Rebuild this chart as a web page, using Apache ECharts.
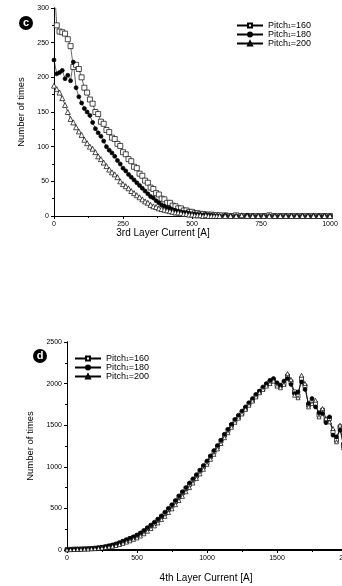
<!DOCTYPE html>
<html>
<head>
<meta charset="utf-8">
<script src="https://cdn.jsdelivr.net/npm/echarts@6/dist/echarts.min.js"></script>
<style>
  html, body { margin: 0; padding: 0; background: #fff; }
  #chart { width: 342px; height: 586px; }
</style>
</head>
<body>
<div id="chart"></div>
<script>
/* ===== 3rd layer (c) ===== */
const cur3 = [0, 10, 20, 30, 40, 50, 60, 70, 80, 90, 100, 110, 120, 130, 140, 150, 160, 170, 180, 190,
    200, 210, 220, 230, 240, 250, 260, 270, 280, 290, 300, 310, 320, 330, 340, 350, 360, 370, 380, 390,
    400, 410, 420, 430, 440, 450, 460, 470, 480, 490, 500, 510, 520, 530, 540, 550, 560, 570, 580, 590,
    600, 620, 640, 660, 680, 700, 720, 740, 760, 780, 800, 820, 840, 860, 880, 900, 920, 940, 960, 980, 1000];
const p160_3 = [340, 275, 266, 265, 263, 255, 245, 215, 218, 212, 200, 185, 178, 168, 162, 150, 147, 136, 133, 124,
    121, 113, 111, 104, 101, 92, 89, 82, 79, 71, 69, 61, 58, 51, 48, 41, 39, 33, 31, 25,
    24, 19, 19, 15, 14, 11, 11, 8, 8, 6, 6, 4, 4, 3, 3, 2, 2, 2, 1, 1,
    1, 1, 0, 1, 0, 0, 0, 0, 0, 1, 0, 0, 0, 0, 0, 0, 0, 0, 0, 0, 0];
const p180_3 = [225, 205, 207, 210, 198, 203, 195, 222, 185, 172, 163, 155, 150, 145, 135, 126, 120, 115, 108, 100,
    95, 91, 86, 80, 75, 69, 65, 60, 56, 52, 48, 44, 40, 36, 32, 28, 26, 22, 19, 16,
    14, 12, 11, 9, 8, 7, 6, 5, 5, 4, 3, 3, 2, 2, 1, 2, 1, 1, 0, 0,
    0, 1, 0, 0, 0, 1, 0, 0, 0, 0, 0, 0, 0, 0, 0, 0, 0, 0, 0, 0, 0];
const p200_3 = [188, 183, 178, 170, 160, 150, 140, 135, 128, 122, 117, 110, 105, 100, 97, 92, 86, 82, 77, 72,
    67, 63, 60, 56, 50, 46, 43, 40, 36, 33, 30, 27, 24, 21, 19, 16, 14, 13, 11, 10,
    9, 8, 7, 6, 5, 5, 4, 3, 3, 2, 2, 1, 1, 1, 0, 1, 0, 0, 0, 0,
    0, 0, 0, 0, 1, 0, 0, 0, 0, 0, 0, 0, 0, 0, 0, 0, 0, 0, 0, 0, 0];

/* ===== 4th layer (d) ===== */
const cur4 = [0, 25, 50, 75, 100, 125, 150, 175, 200, 225, 250, 275, 300, 325, 350, 375, 400, 425, 450, 475,
    500, 525, 550, 575, 600, 625, 650, 675, 700, 725, 750, 775, 800, 825, 850, 875, 900, 925, 950, 975,
    1000, 1025, 1050, 1075, 1100, 1125, 1150, 1175, 1200, 1225, 1250, 1275, 1300, 1325, 1350, 1375, 1400, 1425, 1450, 1475,
    1500, 1525, 1550, 1575, 1600, 1625, 1650, 1675, 1700, 1725, 1750, 1775, 1800, 1825, 1850, 1875, 1900, 1925, 1950, 1975, 2000];
const p160_4 = [5, 8, 10, 10, 12, 14, 15, 18, 20, 25, 30, 38, 45, 55, 68, 82, 100, 118, 135, 150,
    170, 195, 225, 260, 290, 320, 360, 400, 440, 490, 530, 580, 640, 690, 740, 790, 840, 890, 950, 1000,
    1050, 1120, 1180, 1240, 1310, 1380, 1440, 1500, 1560, 1600, 1650, 1700, 1760, 1800, 1860, 1900, 1940, 1990, 2020, 2040,
    1990, 1970, 2000, 2090, 2020, 1900, 1850, 2060, 1970, 1740, 1780, 1760, 1620, 1680, 1560, 1580, 1420, 1320, 1480, 1250, 1150];
const p180_4 = [3, 6, 9, 11, 11, 13, 16, 17, 22, 27, 33, 40, 50, 60, 72, 88, 105, 122, 140, 158,
    180, 205, 235, 268, 300, 335, 372, 410, 455, 500, 545, 595, 650, 700, 750, 805, 855, 905, 960, 1015,
    1070, 1130, 1195, 1255, 1320, 1390, 1450, 1510, 1570, 1620, 1670, 1720, 1770, 1820, 1870, 1910, 1960, 2000, 2040, 2060,
    2010, 1980, 2030, 2060, 1990, 1880, 1900, 2020, 1930, 1760, 1820, 1720, 1650, 1640, 1530, 1600, 1380, 1360, 1440, 1280, 1200];
const p200_4 = [2, 4, 6, 8, 9, 10, 12, 14, 16, 20, 24, 30, 36, 44, 54, 66, 80, 95, 110, 128,
    145, 168, 195, 225, 258, 290, 325, 365, 405, 450, 495, 545, 595, 645, 700, 750, 805, 860, 915, 970,
    1030, 1090, 1150, 1215, 1280, 1350, 1410, 1475, 1535, 1585, 1635, 1690, 1740, 1790, 1840, 1890, 1930, 1970, 2000, 2030,
    1970, 1950, 1990, 2120, 2050, 1860, 1830, 2100, 2000, 1720, 1760, 1800, 1600, 1700, 1580, 1540, 1460, 1300, 1500, 1230, 1120];

const NAMES = ["Pitch1=160", "Pitch1=180", "Pitch1=200"];
const SYMBOLS = ["rect", "circle", "triangle"];
const FILLS = ["#fff", "#000", "#fff"];
const FONT = "Liberation Sans, Arial, sans-serif";

const chart = echarts.init(document.getElementById("chart"));

function xAx(grid, max, interval, top) {
    return {
        type: "value", gridIndex: grid, min: 0, max: max, interval: interval,
        position: top ? "top" : "bottom",
        axisLine: { show: true, lineStyle: { color: "#000", width: top && grid === 1 ? 2 : 1 } },
        axisTick: { show: true, inside: top, length: 3, lineStyle: { color: "#000" } },
        minorTick: { show: true, splitNumber: 2, length: 2, lineStyle: { color: "#000" } },
        axisLabel: { show: !top, fontSize: 7, color: "#000", margin: 5, fontFamily: FONT, formatter: v => String(v) },
        splitLine: { show: false },
    };
}

function yAx(grid, max, interval, right, gap) {
    return {
        type: "value", gridIndex: grid, min: 0, max: max, interval: interval,
        position: right ? "right" : "left",
        name: right ? "" : "Number of times",
        nameLocation: "middle", nameGap: gap,
        nameTextStyle: { fontSize: 9.5, color: "#000", fontFamily: FONT },
        axisLine: { show: true, lineStyle: { color: "#000" } },
        axisTick: { show: true, inside: right, length: 3, lineStyle: { color: "#000" } },
        minorTick: { show: true, splitNumber: 2, length: 2, lineStyle: { color: "#000" } },
        axisLabel: { show: !right, fontSize: 7, color: "#000", margin: 5, fontFamily: FONT, formatter: v => String(v) },
        splitLine: { show: false },
    };
}

function mkSeries(xs, ys, i, gi, size) {
    return {
        type: "line", name: NAMES[i],
        xAxisIndex: gi * 2, yAxisIndex: gi * 2,
        data: xs.map((x, k) => [x, ys[k]]),
        symbol: SYMBOLS[i], symbolSize: size, showSymbol: true,
        lineStyle: { color: "#000", width: 0.6 },
        itemStyle: { color: FILLS[i], borderColor: "#000", borderWidth: 0.7 },
        animation: false,
    };
}

function mkLegend(left, top) {
    return {
        left: left, top: top, orient: "vertical", padding: 0,
        itemWidth: 26, itemHeight: 5, itemGap: 0,
        data: NAMES,
        textStyle: {
            fontSize: 9, color: "#000", fontFamily: FONT, lineHeight: 8,
            rich: { s: { fontSize: 5, lineHeight: 8, verticalAlign: "bottom", fontFamily: FONT } },
        },
        formatter: n => n.replace("Pitch1", "Pitch{s|1}"),
        selectedMode: false,
    };
}

function badge(cx, cy, letter) {
    return {
        type: "group",
        children: [
            { type: "circle", shape: { cx: cx, cy: cy, r: 7 }, style: { fill: "#000" } },
            { type: "text", x: cx, y: cy, style: { text: letter, fill: "#fff", fontSize: 11, fontWeight: "bold",
              fontFamily: FONT, align: "center", verticalAlign: "middle" } },
        ],
    };
}

chart.setOption({
    animation: false,
    grid: [
        { left: 54, top: 8, width: 276, height: 208, outerBoundsMode: "none" },
        { left: 67, top: 342, width: 280, height: 208, outerBoundsMode: "none" },
    ],
    xAxis: [
        xAx(0, 1000, 250, false), xAx(0, 1000, 250, true),
        xAx(1, 2000, 500, false), xAx(1, 2000, 500, true),
    ],
    yAxis: [
        yAx(0, 300, 50, false, 27), yAx(0, 300, 50, true, 0),
        yAx(1, 2500, 500, false, 31), yAx(1, 2500, 500, true, 0),
    ],
    legend: [mkLegend(236, 21), mkLegend(74, 354)],
    series: [
        mkSeries(cur3, p160_3, 0, 0, 5),
        mkSeries(cur3, p180_3, 1, 0, 4),
        mkSeries(cur3, p200_3, 2, 0, 5),
        mkSeries(cur4, p160_4, 0, 1, 4),
        mkSeries(cur4, p180_4, 1, 1, 4),
        mkSeries(cur4, p200_4, 2, 1, 4),
    ],
    graphic: [
        badge(26, 23, "c"),
        badge(40, 356, "d"),
        { type: "text", x: 163, y: 233, style: { text: "3rd Layer Current [A]", fontSize: 10, fill: "#000",
          fontFamily: FONT, align: "center", verticalAlign: "middle" } },
        { type: "text", x: 206, y: 578, style: { text: "4th Layer Current [A]", fontSize: 10, fill: "#000",
          fontFamily: FONT, align: "center", verticalAlign: "middle" } },
    ],
});
</script>
</body>
</html>
